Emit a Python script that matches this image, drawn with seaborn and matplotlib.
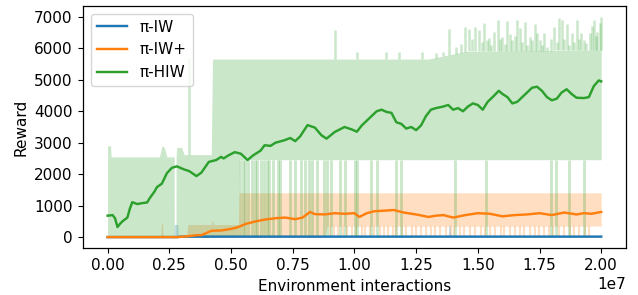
import numpy as np
import pandas as pd
import matplotlib
matplotlib.use("Agg")
import matplotlib.pyplot as plt
import seaborn as sns

SCALE = 1e7

# ---------------- mean curves (x in units of 1e7) ----------------
green_x = [0.0, 0.02, 0.03, 0.04, 0.05, 0.06, 0.07, 0.08, 0.09, 0.10, 0.12, 0.14, 0.16, 0.17,
           0.19, 0.20, 0.22, 0.24, 0.26, 0.28, 0.31, 0.33, 0.36, 0.38, 0.41, 0.44, 0.46, 0.47,
           0.49, 0.515, 0.54, 0.567, 0.59, 0.62, 0.636, 0.66, 0.68, 0.717, 0.74, 0.76, 0.78,
           0.81, 0.84, 0.866, 0.887, 0.92, 0.96, 0.99, 1.01, 1.03, 1.05, 1.07, 1.09, 1.11,
           1.13, 1.15, 1.17, 1.19, 1.21, 1.23, 1.25, 1.27, 1.29, 1.31, 1.33, 1.36, 1.38, 1.40,
           1.42, 1.44, 1.46, 1.48, 1.50, 1.52, 1.54, 1.56, 1.585, 1.60, 1.62, 1.64, 1.66, 1.68,
           1.70, 1.72, 1.74, 1.76, 1.78, 1.80, 1.82, 1.84, 1.86, 1.88, 1.90, 1.93, 1.95, 1.97,
           1.99, 2.0]
green_y = [680, 700, 600, 320, 420, 500, 560, 620, 900, 1110, 1050, 1080, 1100, 1230,
           1450, 1590, 1700, 2030, 2200, 2250, 2150, 2100, 1940, 2050, 2390, 2450, 2550, 2500,
           2600, 2700, 2650, 2450, 2600, 2750, 2920, 2900, 3000, 3080, 3150, 3050, 3200,
           3560, 3480, 3240, 3130, 3340, 3500, 3420, 3350, 3550, 3700, 3850, 4000, 4050,
           3980, 3950, 3650, 3600, 3450, 3500, 3400, 3550, 3850, 4050, 4100, 4150, 4200, 4050,
           4100, 4000, 4150, 4250, 4200, 4050, 4300, 4450, 4650, 4550, 4450, 4250, 4300, 4450,
           4600, 4750, 4780, 4650, 4450, 4350, 4400, 4600, 4700, 4550, 4430, 4420, 4450, 4800,
           4980, 4950]

orange_x = [0.0, 0.28, 0.30, 0.33, 0.36, 0.38, 0.40, 0.42, 0.46, 0.50, 0.53, 0.56, 0.60,
            0.64, 0.68, 0.72, 0.76, 0.79, 0.82, 0.84, 0.88, 0.92, 0.96, 1.0, 1.02, 1.05,
            1.08, 1.12, 1.16, 1.20, 1.25, 1.30, 1.33, 1.36, 1.40, 1.45, 1.50, 1.55, 1.60,
            1.65, 1.70, 1.75, 1.80, 1.85, 1.90, 1.93, 1.96, 2.0]
orange_y = [0, 0, 10, 30, 60, 60, 130, 200, 210, 260, 320, 420, 500,
            560, 600, 620, 570, 620, 800, 730, 720, 760, 740, 760, 640, 760,
            820, 840, 860, 780, 720, 640, 680, 700, 620, 700, 760, 740, 660,
            700, 720, 760, 700, 780, 720, 760, 740, 800]

blue_x = [0.0, 0.28, 0.30, 2.0]
blue_y = [0, 0, 15, 15]

# ---------------- shaded bands ----------------
g_band_x = [0.0, 0.012, 0.014, 0.21, 0.22, 0.23, 0.24, 0.2695, 0.270, 0.277, 0.2775,
            0.28, 0.30, 0.31, 0.42, 0.425, 0.53, 0.532, 1.30, 1.45, 2.0]
g_band_lo = [0, 0, 0, 0, 0, 0, 0, 0, 0, 0, 0,
             0, 0, 0, 0, 0, 0, 2460, 2460, 2460, 2460]
g_band_hi = [2900, 2900, 2550, 2550, 2900, 2850, 2550, 2550, 0, 0, 2550,
             2850, 2850, 2620, 2620, 5660, 5660, 5660, 5660, 5900, 5950]

g_dip_x = [0.537, 0.548, 0.556, 0.568, 0.585, 0.596, 0.606, 0.62, 0.632, 0.645, 0.655,
           0.67, 0.69, 0.70, 0.74, 0.76, 0.785, 0.80, 0.815, 0.83, 0.85, 0.875, 0.887,
           0.907, 0.943, 0.96, 1.004, 1.012, 1.068, 1.092, 1.168, 1.188, 1.407, 1.534,
           1.798, 1.816, 1.87, 1.932]

g_spike_x = [0.328, 0.92, 1.01, 1.13, 1.18, 1.275, 1.33, 1.36, 1.385, 1.41, 1.43, 1.45,
             1.465, 1.478, 1.49, 1.506, 1.515, 1.526, 1.536, 1.546, 1.555, 1.567, 1.58,
             1.59, 1.60, 1.61, 1.62, 1.63, 1.64, 1.65, 1.66, 1.67, 1.68, 1.69, 1.70, 1.71,
             1.72, 1.73, 1.74, 1.75, 1.76, 1.77, 1.78, 1.795, 1.81, 1.82, 1.83, 1.84, 1.85,
             1.86, 1.87, 1.88, 1.89, 1.90, 1.91, 1.92, 1.93, 1.94, 1.955, 1.963, 1.97,
             1.978, 1.985, 1.995, 2.0]
g_spike_top = [5700, 6580, 5880, 5880, 5880, 5880, 5850, 5900, 6600, 6040, 6150, 6680,
               6630, 6300, 6690, 6580, 6200, 6800, 6250, 6330, 6100, 6530, 6900,
               6300, 6370, 6150, 6870, 6450, 6265, 6400, 6900, 6635, 6200, 6850, 6100, 6370,
               6250, 6790, 6500, 6265, 6100, 6480, 6050, 6300, 6690, 6200, 6960, 6900, 6300,
               6790, 6100, 6480, 6200, 6900, 6300, 6480, 6250, 6160, 6500, 6700, 6900,
               6400, 6530, 6800, 7000]

o_band_x = [0.0, 0.215, 0.218, 0.222, 0.225, 0.32, 0.325, 0.42, 0.425, 0.43, 0.53, 0.532,
            0.88, 0.89, 2.0]
o_band_lo = [0, 0, 0, 0, 0, 0, 0, 0, 0, 0, 0, 0, 0, 350, 350]
o_band_hi = [20, 20, 440, 440, 20, 20, 400, 400, 540, 400, 400, 1410, 1410, 1410, 1410]

o_dip_x = [0.90, 0.918, 0.934, 0.955, 0.97, 0.992, 1.008, 1.03, 1.042, 1.063, 1.08,
           1.104, 1.118, 1.137, 1.156, 1.17, 1.192, 1.21, 1.234, 1.25, 1.268, 1.29,
           1.31, 1.326, 1.348, 1.37, 1.39, 1.405, 1.428, 1.446, 1.47, 1.49, 1.512, 1.53,
           1.55, 1.57, 1.592, 1.608, 1.63, 1.652, 1.67, 1.688, 1.71, 1.73, 1.746, 1.77,
           1.79, 1.806, 1.83, 1.85, 1.872, 1.89, 1.91, 1.935, 1.95]

b_band_x = [0.0, 0.268, 0.27, 0.284, 0.286, 1.38, 1.383, 1.388, 1.39, 2.0]
b_band_hi = [0, 0, 400, 400, 30, 30, 380, 380, 30, 30]

labels = ["π-IW", "π-IW+", "π-HIW"]
colors = ["#1f77b4", "#ff7f0e", "#2ca02c"]

plt.rcParams["font.family"] = ["DejaVu Sans"]
plt.rcParams["font.size"] = 11
plt.rcParams["xtick.major.size"] = 3.85
plt.rcParams["ytick.major.size"] = 3.85
plt.rcParams["axes.linewidth"] = 0.9
fig, ax = plt.subplots(figsize=(6.38, 2.95), dpi=100)
fig.subplots_adjust(left=0.130, right=0.981, top=0.980, bottom=0.159)

s = lambda v: np.asarray(v, dtype=float) * SCALE
A = 0.25

# blue band
ax.fill_between(s(b_band_x), 0, b_band_hi, color=colors[0], alpha=A, linewidth=0)
# orange band
ax.fill_between(s(o_band_x), o_band_lo, o_band_hi, color=colors[1], alpha=A, linewidth=0)
ax.vlines(s(o_dip_x), 0, 350, color=colors[1], alpha=A, linewidth=1.6)
# green band
ax.fill_between(s(g_band_x), g_band_lo, g_band_hi, color=colors[2], alpha=A, linewidth=0)
ax.vlines(s(g_dip_x), 0, 2460, color=colors[2], alpha=A, linewidth=2.0)
g_base = np.interp(g_spike_x, g_band_x, g_band_hi)
ax.vlines(s(g_spike_x), g_base, g_spike_top, color=colors[2], alpha=A, linewidth=1.8)

df = pd.concat([
    pd.DataFrame({"x": s(blue_x), "y": blue_y, "algo": labels[0]}),
    pd.DataFrame({"x": s(orange_x), "y": orange_y, "algo": labels[1]}),
    pd.DataFrame({"x": s(green_x), "y": green_y, "algo": labels[2]}),
])
sns.lineplot(data=df, x="x", y="y", hue="algo", hue_order=labels, palette=colors,
             linewidth=1.75, ax=ax, zorder=3, estimator=None, sort=True)

ax.set_xlabel("Environment interactions")
ax.set_ylabel("Reward")
ax.set_yticks([0, 1000, 2000, 3000, 4000, 5000, 6000, 7000])
handles, labs = ax.get_legend_handles_labels()
ax.legend(handles[-3:], labs[-3:], loc="upper left")

fig.savefig("out.png", dpi=100)
